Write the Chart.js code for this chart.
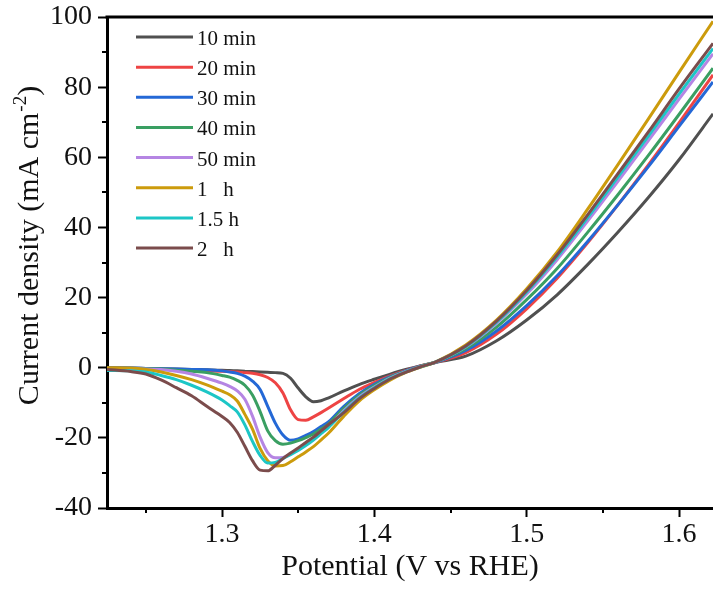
<!DOCTYPE html>
<html>
<head>
<meta charset="utf-8">
<script src="https://cdn.jsdelivr.net/npm/chart.js@4.4.0/dist/chart.umd.min.js"></script>
<style>
    html, body { margin: 0; padding: 0; background: #fff; }
    #wrap { width: 713px; height: 590px; position: relative; }
</style>
</head>
<body>
<div id="wrap"><canvas id="lsvChart"></canvas></div>
<script>
// Potential grid (V vs RHE) shared by every curve
const potential = [1.2245, 1.24, 1.25, 1.26, 1.27, 1.28, 1.29, 1.30, 1.305, 1.31, 1.315, 1.32, 1.325, 1.33, 1.335,
    1.34, 1.345, 1.35, 1.355, 1.36, 1.365, 1.37, 1.38, 1.39, 1.40, 1.41, 1.42, 1.43, 1.44, 1.46, 1.48, 1.50,
    1.52, 1.54, 1.56, 1.58, 1.60, 1.6223];

const seriesNames = ["10 min", "20 min", "30 min", "40 min", "50 min", "1   h", "1.5 h", "2   h"];
const seriesColors = ["#505050", "#ee4444", "#2468d6", "#3a9f62", "#b585e3", "#cc9b0c", "#1cc6c6", "#7b4c4c"];

// Current density (mA cm-2)
const j10min = [0, -0.1, -0.2, -0.3, -0.4, -0.5, -0.6, -0.7, -0.8, -0.9, -1.0, -1.1, -1.2, -1.3, -1.4,
    -1.6, -3.0, -5.8, -8.3, -9.7, -9.4, -8.6, -6.6, -4.8, -3.3, -1.9, -0.6, 0.5, 1.5, 3.3, 7.6, 13.6,
    20.8, 29.4, 38.7, 48.6, 59.3, 72.4];
const j20min = [-0.2, -0.3, -0.4, -0.5, -0.6, -0.8, -0.9, -1.0, -1.1, -1.2, -1.4, -1.6, -2.0, -2.8, -4.3,
    -7.2, -12.0, -14.8, -15.0, -14.0, -12.8, -11.5, -8.8, -6.2, -4.2, -2.4, -0.9, 0.5, 1.5, 4.3, 9.5, 16.8,
    25.5, 35.6, 46.5, 57.9, 69.8, 83.5];
const j30min = [-0.1, -0.1, -0.2, -0.3, -0.4, -0.5, -0.6, -0.9, -1.2, -1.6, -2.4, -3.8, -6.2, -11.0, -15.8,
    -19.2, -20.7, -20.3, -19.3, -18.2, -16.8, -15.4, -11.0, -7.4, -4.7, -2.6, -1.0, 0.4, 1.5, 4.9, 10.4, 17.7,
    26.2, 36.0, 46.5, 57.4, 68.8, 81.5];
const j40min = [-0.2, -0.2, -0.3, -0.4, -0.7, -1.0, -1.4, -2.2, -2.7, -3.6, -5.0, -7.8, -12.5, -18.0, -20.8,
    -21.8, -21.5, -20.8, -19.9, -18.9, -17.5, -16.0, -11.6, -7.9, -5.1, -2.8, -1.1, 0.4, 1.6, 5.4, 11.5, 19.4,
    28.3, 38.6, 49.4, 60.6, 72.2, 85.4];
const j50min = [-0.3, -0.3, -0.4, -0.5, -1.0, -1.8, -3.0, -4.4, -5.3, -6.6, -9.0, -13.8, -19.8, -24.2, -25.7,
    -25.6, -24.6, -23.3, -21.9, -20.4, -18.6, -16.8, -12.2, -8.4, -5.5, -3.0, -1.2, 0.3, 1.6, 5.9, 12.6, 21.0,
    30.8, 41.8, 53.2, 64.8, 76.6, 89.5];
const j1h = [0, -0.1, -0.5, -1.2, -2.2, -3.4, -4.9, -6.7, -7.7, -9.5, -13.3, -17.5, -23.0, -26.5, -28.0,
    -27.9, -26.8, -25.4, -24.0, -22.5, -20.6, -18.6, -13.8, -9.5, -6.3, -3.6, -1.5, 0.1, 1.6, 6.5, 13.5, 22.5,
    33.0, 45.2, 58.0, 71.0, 84.2, 98.8];
const j15h = [-0.8, -0.9, -1.2, -2.2, -3.4, -5.0, -6.9, -9.2, -10.8, -12.6, -16.3, -21.0, -25.0, -27.2, -27.0,
    -25.9, -24.8, -23.6, -22.2, -20.6, -18.8, -17.0, -12.6, -8.7, -5.7, -3.2, -1.3, 0.2, 1.6, 6.0, 12.9, 21.6,
    31.6, 42.8, 54.4, 66.1, 78.0, 91.0];
const j2h = [-0.5, -1.1, -1.8, -3.5, -5.7, -8.0, -11.0, -13.9, -15.6, -18.4, -22.4, -26.5, -29.2, -29.4, -27.8,
    -25.9, -24.3, -22.9, -21.3, -19.8, -18.0, -16.2, -12.8, -8.9, -5.9, -3.3, -1.4, 0.2, 1.6, 6.2, 13.2, 22.0,
    32.2, 43.6, 55.4, 67.3, 79.5, 92.5];

const allSeries = [j10min, j20min, j30min, j40min, j50min, j1h, j15h, j2h];

const yMinorTicks = [-30, -10, 10, 30, 50, 70, 90];
const xMinorTicks = [1.25, 1.35, 1.45, 1.55];

const serif = "'Liberation Serif', 'Times New Roman', serif";

const datasets = allSeries.map((vals, i) => ({
    label: seriesNames[i],
    data: potential.map((x, k) => ({ x: x, y: vals[k] })),
    borderColor: seriesColors[i],
    backgroundColor: seriesColors[i],
    borderWidth: 3,
    pointRadius: 0,
    cubicInterpolationMode: "monotone",
    order: allSeries.length - i
}));

// Top frame line and the short minor ticks
const framePlugin = {
    id: "frame",
    afterDraw(chart) {
        const { ctx, chartArea, scales } = chart;
        ctx.save();
        ctx.strokeStyle = "#000";
        ctx.lineWidth = 3;
        ctx.beginPath();
        ctx.moveTo(chartArea.left - 1.5, chartArea.top);
        ctx.lineTo(chartArea.right, chartArea.top);
        ctx.stroke();

        ctx.lineWidth = 2;
        xMinorTicks.forEach(v => {
            const px = Math.round(scales.x.getPixelForValue(v));
            ctx.beginPath();
            ctx.moveTo(px, chartArea.bottom);
            ctx.lineTo(px, chartArea.bottom + 5);
            ctx.stroke();
        });
        yMinorTicks.forEach(v => {
            const py = Math.round(scales.y.getPixelForValue(v));
            ctx.beginPath();
            ctx.moveTo(chartArea.left, py);
            ctx.lineTo(chartArea.left - 5, py);
            ctx.stroke();
        });
        ctx.restore();
    }
};

// Legend drawn inside the plot at top left
const legendPlugin = {
    id: "insideLegend",
    afterDraw(chart) {
        const ctx = chart.ctx;
        ctx.save();
        ctx.font = "21px " + serif;
        ctx.textBaseline = "alphabetic";
        ctx.textAlign = "left";
        seriesNames.forEach((name, i) => {
            const y = 37 + i * 30.15;
            ctx.strokeStyle = seriesColors[i];
            ctx.lineWidth = 3;
            ctx.beginPath();
            ctx.moveTo(136, y);
            ctx.lineTo(193, y);
            ctx.stroke();
            ctx.fillStyle = "#111";
            ctx.fillText(name, 197, y + 8);
        });
        ctx.restore();
    }
};

// Y title with a superscript "-2"
const yTitlePlugin = {
    id: "yTitle",
    afterDraw(chart) {
        const ctx = chart.ctx;
        const mainFont = "30px " + serif;
        const supFont = "19px " + serif;
        const partA = "Current density (mA cm";
        const sup = "-2";
        const partB = ")";
        ctx.save();
        ctx.font = mainFont;
        const wA = ctx.measureText(partA).width;
        const wB = ctx.measureText(partB).width;
        ctx.font = supFont;
        const wS = ctx.measureText(sup).width;
        const total = wA + wS + wB;
        ctx.translate(38, 246);
        ctx.rotate(-Math.PI / 2);
        ctx.fillStyle = "#111";
        ctx.textBaseline = "alphabetic";
        ctx.textAlign = "left";
        let x = -total / 2;
        ctx.font = mainFont;
        ctx.fillText(partA, x, 0);
        x += wA;
        ctx.font = supFont;
        ctx.fillText(sup, x + 1, -12);
        x += wS + 1;
        ctx.font = mainFont;
        ctx.fillText(partB, x, 0);
        ctx.restore();
    }
};

new Chart(document.getElementById("lsvChart"), {
    type: "line",
    data: { datasets: datasets },
    options: {
        responsive: true,
        maintainAspectRatio: false,
        animation: false,
        layout: { padding: { top: 17, right: 0, left: 0, bottom: 0 } },
        plugins: {
            legend: { display: false },
            tooltip: { enabled: false }
        },
        scales: {
            x: {
                type: "linear",
                min: 1.2245,
                max: 1.6223,
                afterFit: (scale) => {
                    scale.height = 82;
                    scale.paddingLeft = 0;
                    scale.paddingRight = 0;
                },
                border: { display: true, color: "#000", width: 3 },
                grid: { drawOnChartArea: false, drawTicks: true, tickLength: 9, tickWidth: 2, tickColor: "#000" },
                ticks: {
                    stepSize: 0.1,
                    includeBounds: false,
                    padding: 1,
                    color: "#111",
                    font: { family: serif, size: 28 },
                    callback: (v) => Number(v).toFixed(1)
                },
                title: {
                    display: true,
                    text: "Potential (V vs RHE)",
                    color: "#111",
                    font: { family: serif, size: 30, lineHeight: 1.2 },
                    padding: { top: 0, bottom: 5 }
                }
            },
            y: {
                min: -40,
                max: 100,
                afterFit: (scale) => {
                    scale.width = 107;
                    scale.paddingTop = 0;
                    scale.paddingBottom = 0;
                },
                border: { display: true, color: "#000", width: 3 },
                grid: { drawOnChartArea: false, drawTicks: true, tickLength: 9, tickWidth: 2, tickColor: "#000" },
                ticks: {
                    stepSize: 20,
                    includeBounds: false,
                    padding: 6,
                    color: "#111",
                    font: { family: serif, size: 28 }
                }
            }
        }
    },
    plugins: [framePlugin, legendPlugin, yTitlePlugin]
});
</script>
</body>
</html>
